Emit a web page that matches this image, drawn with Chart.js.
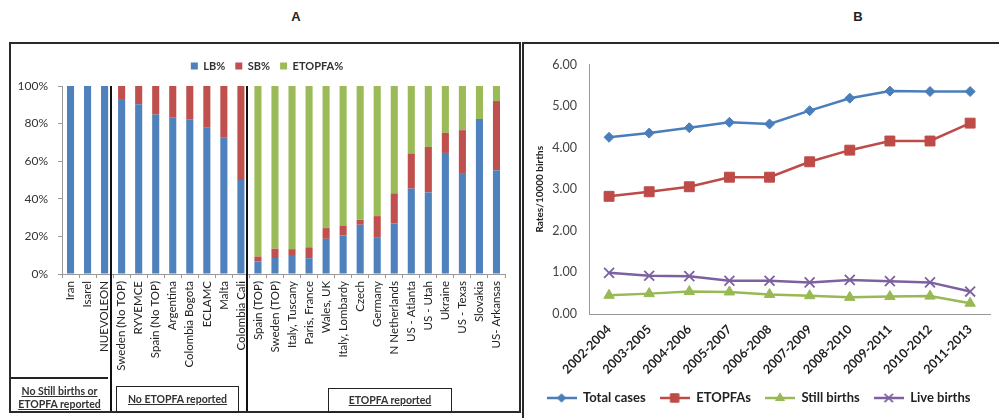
<!DOCTYPE html>
<html><head><meta charset="utf-8">
<script src="https://cdn.jsdelivr.net/npm/chart.js@4.4.1/dist/chart.umd.min.js"></script>
<style>
html,body{margin:0;padding:0;background:#fff;}
body{width:999px;height:418px;position:relative;overflow:hidden;font-family:Lato,"Open Sans",sans-serif;}
.abs{position:absolute;}
.title{font:bold 13px "Liberation Sans",Arial,sans-serif;color:#222;width:20px;text-align:center;}
.panel{border:2px solid #2a2a2a;box-sizing:border-box;}
.grp{font:bold 10.5px Lato,sans-serif;color:#333;text-decoration:underline;text-align:center;line-height:13px;}
.box{border:1.5px solid #222;box-sizing:border-box;display:flex;align-items:center;justify-content:center;}
</style></head><body>
<div class="abs title" style="left:286px;top:9px">A</div>
<div class="abs title" style="left:848px;top:9px">B</div>
<div class="abs panel" style="left:9px;top:42px;width:512px;height:371px"></div>
<div class="abs panel" style="left:522px;top:42px;width:490px;height:390px"></div>
<canvas id="cA" class="abs" width="508" height="367" style="left:11px;top:44px"></canvas>
<canvas id="cB" class="abs" width="474" height="373" style="left:525px;top:45px"></canvas>
<div class="abs" style="left:11px;top:377px;width:97px;height:2px;background:#222"></div>
<div class="abs grp" style="left:11px;top:385px;width:97px">No Still births or<br>ETOPFA reported</div>
<div class="abs box grp" style="left:116px;top:386px;width:123px;height:27px">No ETOPFA reported</div>
<div class="abs box grp" style="left:328px;top:388px;width:124px;height:25px">ETOPFA reported</div>
<script>
// ---------- Panel A data ----------
const categoriesA = ['Iran','Isarel','NUEVOLEON','Sweden (No TOP)','RYVEMCE','Spain (No TOP)','Argentina','Colombia Bogota','ECLAMC','Malta','Colombia Cali','Spain (TOP)','Sweden (TOP)','Italy, Tuscany','Paris, France','Wales, UK','Italy, Lombardy','Czech','Germany','N Netherlands','US - Atlanta','US - Utah','Ukraine','US - Texas','Slovakia','US- Arkansas'];
const lbPct = [100,100,100,92.6,90.3,84.8,83.2,82.3,78,72.7,50,6.6,8.5,9.6,8.4,18.7,20.5,26.2,19.6,26.9,45.4,43.4,64.4,53.7,82.4,55.2];
const sbPct = [0,0,0,7.4,9.7,15.2,16.8,17.7,22,27.3,50,2.7,5,3.6,5.8,5.7,5.2,2.6,11.2,16,18.7,24.2,10.7,22.8,0,36.8];
const etopfaPct = [0,0,0,0,0,0,0,0,0,0,0,90.7,86.5,86.8,85.8,75.6,74.3,71.2,69.2,57.1,35.9,32.4,24.9,23.5,17.6,8];
const yTicksA = [0,20,40,60,80,100];
const groupEnds = [2,10];

// ---------- Panel B data ----------
const periods = ['2002-2004','2003-2005','2004-2006','2005-2007','2006-2008','2007-2009','2008-2010','2009-2011','2010-2012','2011-2013'];
const totalCases = [4.25,4.35,4.48,4.61,4.57,4.89,5.19,5.36,5.35,5.35];
const etopfas = [2.83,2.94,3.06,3.29,3.29,3.66,3.94,4.16,4.16,4.59];
const stillBirths = [0.45,0.49,0.54,0.53,0.47,0.44,0.40,0.42,0.43,0.26];
const liveBirths = [0.99,0.92,0.91,0.80,0.80,0.76,0.82,0.79,0.76,0.54];
const yTicksB = [0,1,2,3,4,5,6];

const legendGap = {
  id:'legendGap',
  beforeLayout(chart, args, opts){
    const lg = chart.legend;
    if (lg && !lg.__p){
      const f = lg.fit;
      lg.fit = function(){ f.call(this); this.height += (opts.extra||0); };
      lg.__p = true;
    }
  },
  afterLayout(chart, args, opts){
    const lg = chart.legend;
    if (lg && opts.shiftX){ lg.left += opts.shiftX; lg.right += opts.shiftX; }
  }
};

const separators = {
  id:'separators',
  afterDraw(chart){
    const x = chart.scales.x, y = chart.scales.y, ctx = chart.ctx;
    const cw = x.getPixelForValue(1) - x.getPixelForValue(0);
    ctx.save();
    ctx.strokeStyle = '#111'; ctx.lineWidth = 2;
    groupEnds.forEach(i => {
      const px = Math.round(x.getPixelForValue(i) + cw*0.36);
      ctx.beginPath(); ctx.moveTo(px, y.getPixelForValue(100)); ctx.lineTo(px, chart.height); ctx.stroke();
    });
    ctx.restore();
  }
};

Chart.defaults.font.family = 'Lato, "Open Sans", sans-serif';

new Chart(document.getElementById('cA'), {
  type:'bar',
  data:{labels:categoriesA, datasets:[
    {label:'LB%', data:lbPct, backgroundColor:'#4F81BD'},
    {label:'SB%', data:sbPct, backgroundColor:'#C0504D'},
    {label:'ETOPFA%', data:etopfaPct, backgroundColor:'#9BBB59'}
  ]},
  options:{
    responsive:false, animation:false, devicePixelRatio:1,
    layout:{padding:{top:6.5,left:0,right:14,bottom:0}},
    datasets:{bar:{categoryPercentage:0.8,barPercentage:0.52}},
    plugins:{
      legend:{position:'top', labels:{boxWidth:7, boxHeight:7, padding:10, font:{size:11, weight:'bold'}, color:'#333'}},
      tooltip:{enabled:false},
      legendGap:{extra:4.5, shiftX:9}
    },
    scales:{
      x:{stacked:true, offset:true,
         grid:{display:true, drawOnChartArea:false, offset:true, tickLength:4, color:'#999'},
         border:{color:'#999'},
         ticks:{autoSkip:false, minRotation:90, maxRotation:90, font:{size:11.5}, color:'#222', padding:3},
         afterFit:s=>{s.height=137;}},
      y:{stacked:true, min:0, max:100,
         grid:{display:true, drawOnChartArea:false, tickLength:4, color:'#999'},
         border:{color:'#999'},
         ticks:{font:{size:12}, color:'#333', padding:10, callback:v=>v+'%'},
         afterBuildTicks:s=>{s.ticks = yTicksA.map(v=>({value:v}));},
         afterFit:s=>{s.width=51;}}
    }
  },
  plugins:[legendGap, separators]
});

function legendIcon(ds){
  const c = document.createElement('canvas');
  c.width = 30; c.height = 14;
  const ctx = c.getContext('2d');
  ctx.strokeStyle = ds.borderColor; ctx.lineWidth = 2.5;
  ctx.beginPath(); ctx.moveTo(0,7); ctx.lineTo(30,7); ctx.stroke();
  ctx.fillStyle = ds.backgroundColor; ctx.strokeStyle = ds.borderColor;
  ctx.lineWidth = ds.pointBorderWidth || 1;
  Chart.helpers.drawPoint(ctx, {pointStyle:ds.pointStyle, radius:ds.pointRadius*0.85, borderWidth:ds.pointBorderWidth||1, rotation:0}, 15, 7);
  return c;
}

new Chart(document.getElementById('cB'), {
  type:'line',
  data:{labels:periods, datasets:[
    {label:'Total cases', data:totalCases, borderColor:'#4A7EBB', backgroundColor:'#4A7EBB', pointStyle:'rectRot', pointRadius:5, pointBorderWidth:1, borderWidth:2.5},
    {label:'ETOPFAs', data:etopfas, borderColor:'#BE4B48', backgroundColor:'#BE4B48', pointStyle:'rect', pointRadius:7, pointBorderWidth:1, borderWidth:2.5},
    {label:'Still births', data:stillBirths, borderColor:'#98B954', backgroundColor:'#98B954', pointStyle:'triangle', pointRadius:6, pointBorderWidth:1, borderWidth:2.5},
    {label:'Live births', data:liveBirths, borderColor:'#7D60A0', backgroundColor:'#7D60A0', pointStyle:'crossRot', pointRadius:7, pointBorderWidth:1.8, borderWidth:2.5}
  ]},
  options:{
    responsive:false, animation:false, devicePixelRatio:1,
    layout:{padding:{top:16,right:7,bottom:3.5,left:0}},
    plugins:{
      legend:{position:'bottom', labels:{usePointStyle:true, pointStyleWidth:30, padding:14, font:{size:13, weight:'bold'}, color:'#222',
        generateLabels: chart => chart.data.datasets.map((ds,i)=>({text:ds.label, pointStyle:legendIcon(ds), fillStyle:ds.backgroundColor, strokeStyle:ds.borderColor, lineWidth:0, hidden:false, datasetIndex:i, fontColor:'#222'}))}},
      tooltip:{enabled:false}
    },
    scales:{
      x:{offset:true, grid:{display:false, drawTicks:false}, border:{display:true, color:'#999'},
         ticks:{autoSkip:false, minRotation:45, maxRotation:45, padding:8, font:{size:12.5, weight:'bold'}, color:'#222'},
         afterFit:s=>{s.height=63.5;}},
      y:{min:0, max:6, grid:{display:false, drawTicks:false}, border:{display:true, color:'#999'},
         ticks:{padding:12, font:{size:12.5}, color:'#444', callback:v=>Number(v).toFixed(2)},
         afterBuildTicks:s=>{s.ticks = yTicksB.map(v=>({value:v}));},
         title:{display:true, text:'Rates/10000 births', font:{size:10, weight:'bold'}, color:'#222', padding:{top:9,bottom:0}},
         afterFit:s=>{s.width=64;}}
    }
  }
});
</script>
</body></html>
